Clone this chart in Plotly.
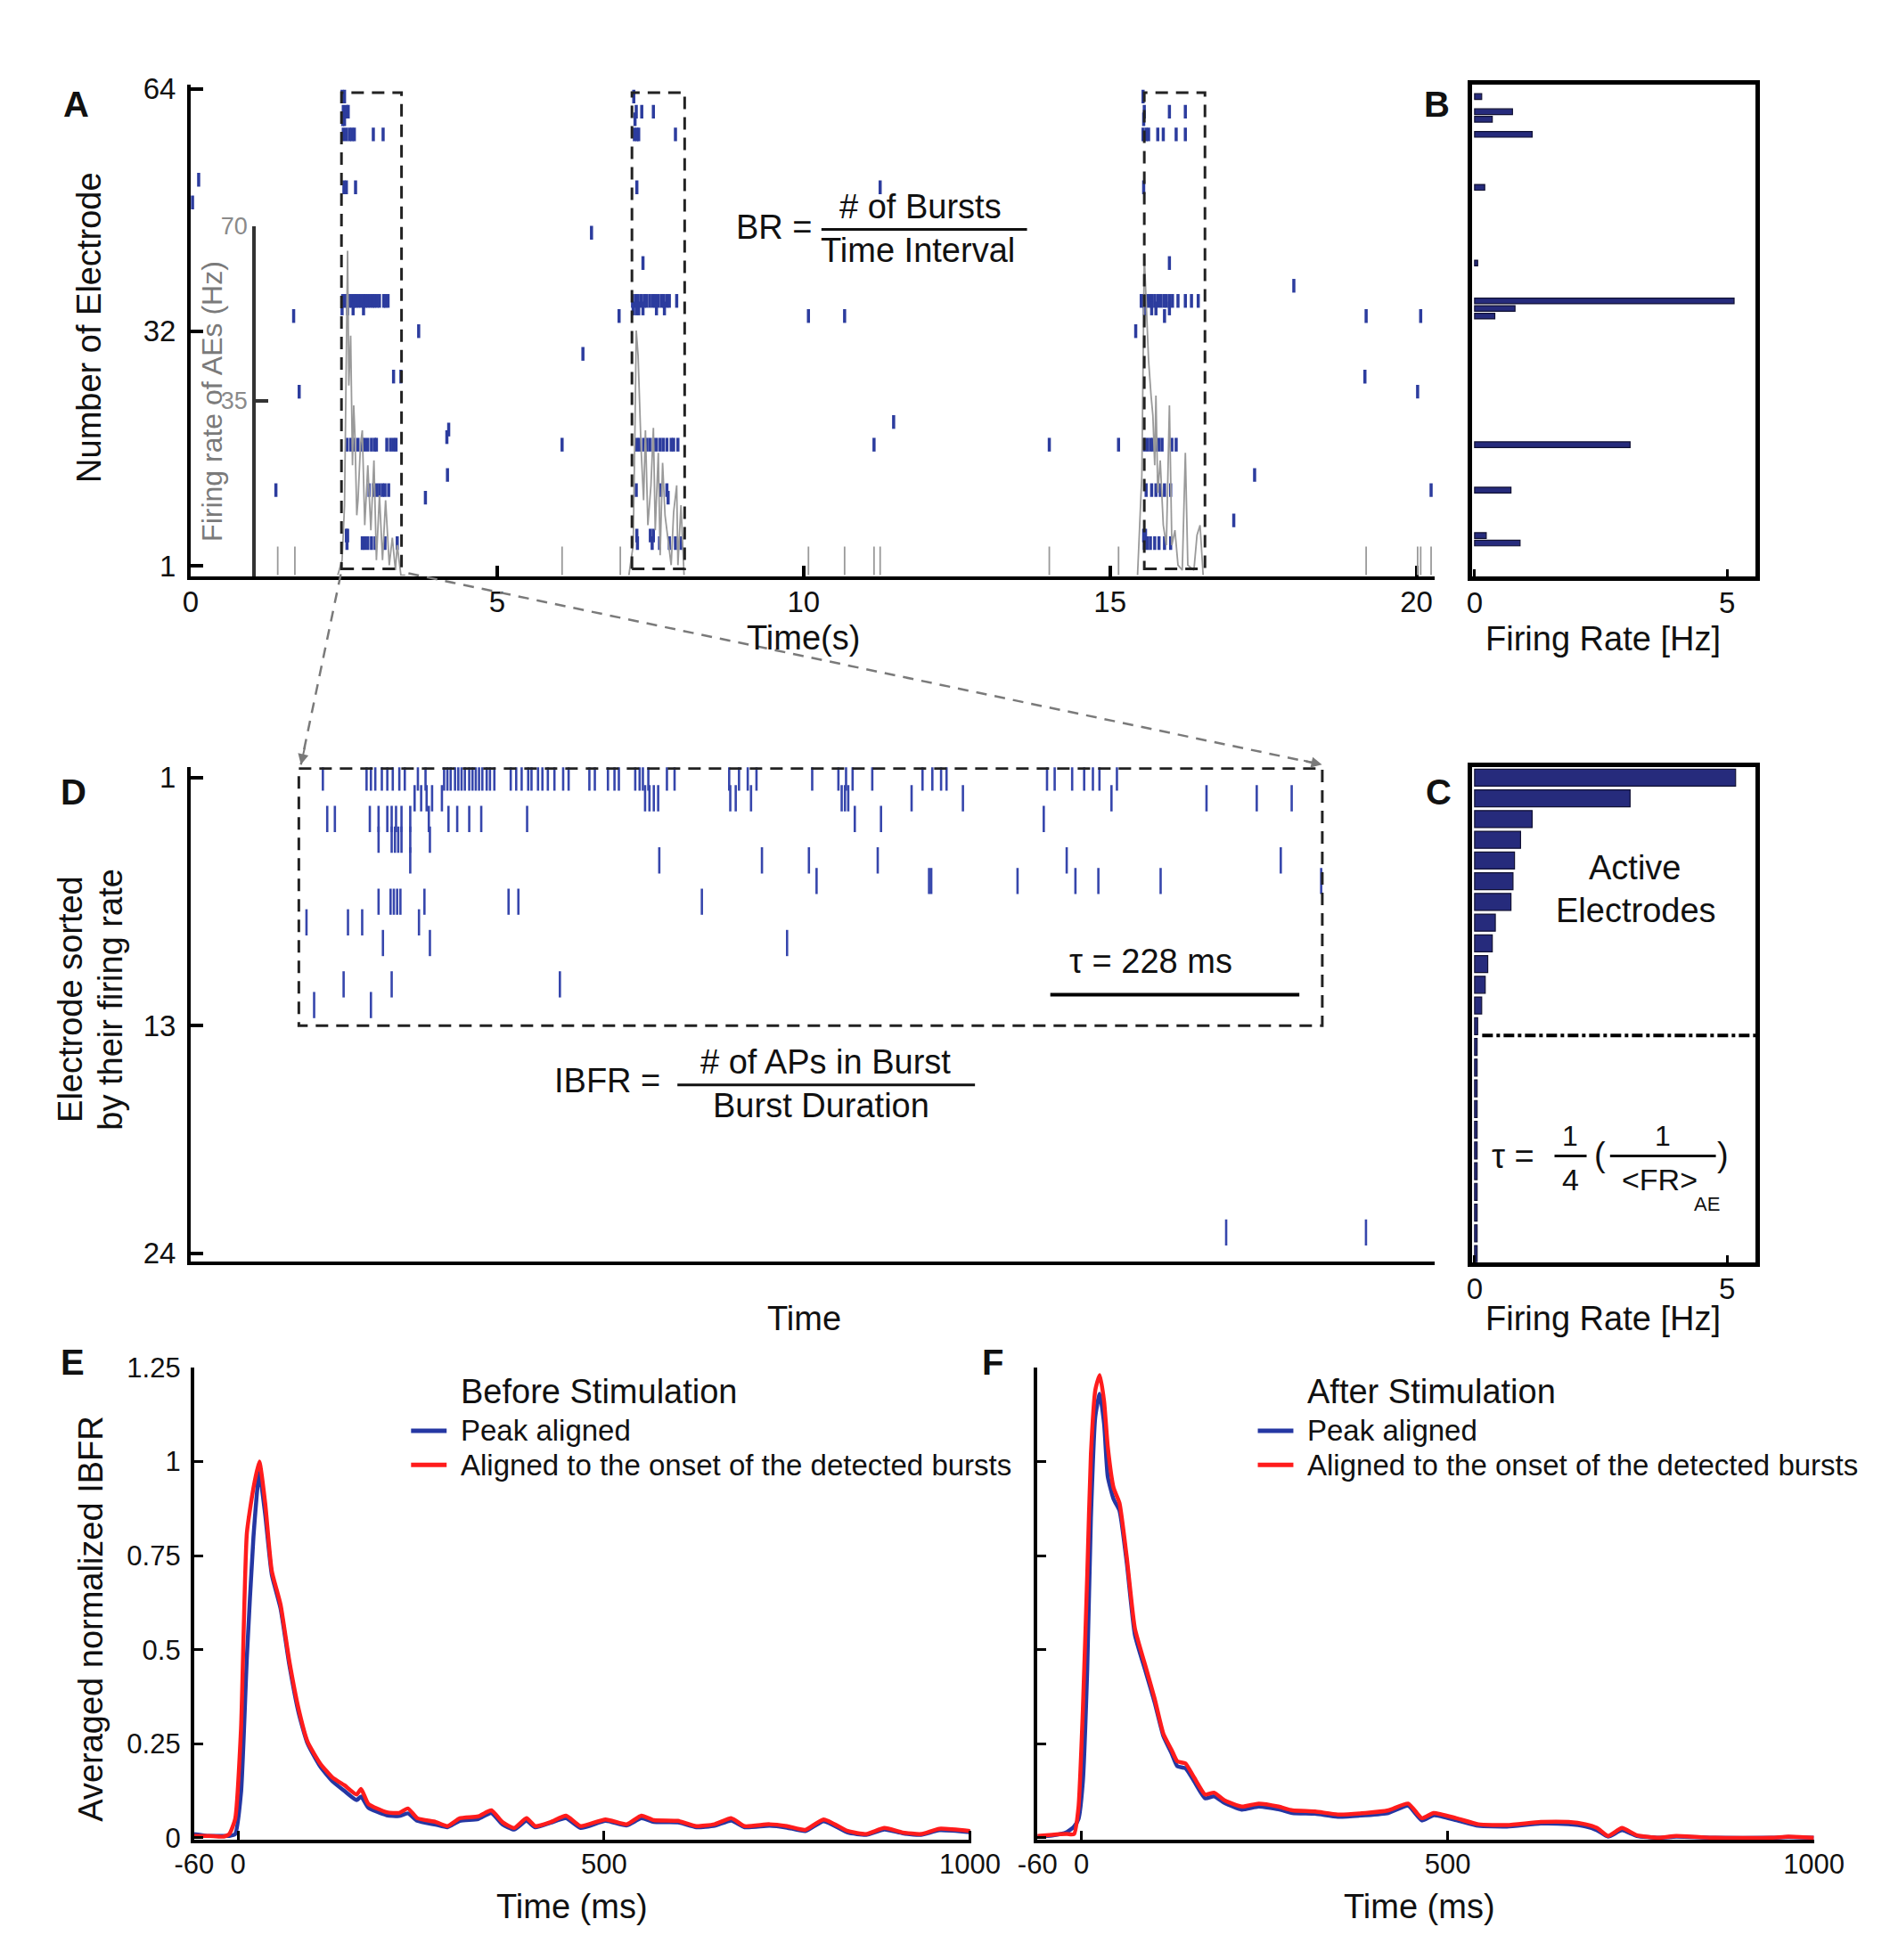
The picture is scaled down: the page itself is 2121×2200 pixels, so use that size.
import plotly.graph_objects as go

W, H = 2121, 2200
FONT = "Liberation Sans, Arial, sans-serif"
INK = "#111111"

# ---- panel A: raster of all 64 electrodes (time in s) ----
a_rows = [63, 61, 60, 58, 52, 51, 49, 45, 41, 38, 36, 35, 34, 32, 29, 26, 24, 20, 19, 18, 17, 13, 11, 10, 7, 5, 4]
a_times = [
    [2.47, 2.51, 7.23, 15.54],
    [2.49, 2.54, 2.57, 7.27, 7.36, 7.55, 15.56, 15.97, 16.23],
    [2.48, 2.51, 7.25, 15.55],
    [2.49, 2.54, 2.59, 2.63, 2.67, 2.98, 3.14, 7.24, 7.28, 7.31, 7.91, 15.54, 15.59, 15.63, 15.78, 15.87, 16.08, 16.23],
    [0.13],
    [2.50, 2.54, 2.69, 7.28, 11.25, 15.55],
    [0.03],
    [6.54],
    [7.38, 15.97],
    [18.0],
    [2.48, 2.52, 2.55, 2.59, 2.63, 2.67, 2.70, 2.74, 2.78, 2.82, 2.85, 2.89, 2.93, 2.97, 3.00, 3.04, 3.08, 3.15, 3.18, 3.22,
     7.21, 7.26, 7.30, 7.35, 7.40, 7.44, 7.49, 7.54, 7.58, 7.63, 7.68, 7.72, 7.77, 7.81, 7.93,
     15.51, 15.55, 15.59, 15.64, 15.68, 15.73, 15.78, 15.83, 15.88, 15.92, 15.97, 16.02, 16.11, 16.23, 16.33, 16.44],
    [2.47, 2.56, 2.65, 2.82, 7.22, 7.27, 7.31, 7.38, 7.60, 7.73, 15.56, 15.68, 15.75, 15.97],
    [1.68, 6.99, 10.08, 10.67, 15.89, 19.18, 20.07],
    [3.72, 15.42],
    [6.40],
    [3.31, 3.43, 19.16],
    [1.77, 20.02],
    [11.47],
    [4.21],
    [4.18],
    [2.55, 2.61, 2.67, 2.73, 2.80, 2.84, 2.89, 2.95, 3.00, 3.03, 3.20, 3.26, 3.31, 3.35, 6.06,
     7.28, 7.32, 7.39, 7.44, 7.49, 7.55, 7.60, 7.66, 7.71, 7.77, 7.84, 7.88, 7.95, 11.15, 14.01, 15.14,
     15.56, 15.61, 15.66, 15.70, 15.75, 15.80, 15.85, 16.01, 16.08],
    [4.19, 17.36],
    [1.39, 2.91, 2.98, 3.03, 3.08, 3.13, 3.17, 3.23, 7.27, 7.67, 7.77, 15.59, 15.68, 15.75, 15.82, 15.89, 15.99, 20.24],
    [3.83, 7.79],
    [17.02],
    [2.54, 2.56, 7.28, 7.50, 7.55, 15.55, 15.58],
    [2.55, 2.80, 2.84, 2.89, 2.95, 3.01, 3.17, 3.37, 7.29, 7.53, 7.65, 7.81, 7.91, 8.00,
     15.56, 15.61, 15.66, 15.73, 15.80, 15.89, 15.99],
]
# burst windows (s)
burst_start = [2.46, 7.20, 15.56]
burst_end = [3.44, 8.06, 16.55]
# firing rate of active electrodes (Hz), gray inset trace
rate_b1_t = [2.40, 2.47, 2.51, 2.54, 2.56, 2.58, 2.61, 2.64, 2.66, 2.68, 2.71, 2.73, 2.77, 2.80, 2.84, 2.89, 2.94, 2.99,
             3.03, 3.08, 3.13, 3.18, 3.24, 3.29, 3.34, 3.37, 3.43, 3.50]
rate_b1_hz = [0, 3, 14, 40, 65, 38, 48, 22, 34, 28, 12, 15, 26, 29, 10, 22, 9, 23, 3, 16, 3, 15, 2, 7.5, 1, 6, 0, 0]
rate_b2_t = [7.15, 7.22, 7.25, 7.27, 7.30, 7.32, 7.35, 7.39, 7.42, 7.46, 7.51, 7.55, 7.58, 7.63, 7.66, 7.70, 7.74, 7.79,
             7.84, 7.88, 7.93, 7.95, 8.00, 8.05]
rate_b2_hz = [0, 6, 30, 49, 44, 35, 25, 15, 29, 10, 18, 29.5, 9, 24.5, 4, 22.5, 12, 7, 2, 12.6, 18, 2, 14, 0]
rate_b3_t = [15.45, 15.52, 15.56, 15.59, 15.63, 15.67, 15.70, 15.73, 15.75, 15.78, 15.82, 15.87, 15.92, 15.97, 16.01,
             16.06, 16.11, 16.18, 16.23, 16.27, 16.37, 16.42, 16.47, 16.52]
rate_b3_hz = [0, 20, 64, 55, 43, 36, 32, 22, 36, 16.5, 23, 10, 6, 34, 6, 9, 2, 1, 24.5, 2, 1, 8, 10, 0]
rate_iso_t = [1.42, 1.70, 6.06, 7.01, 10.08, 10.67, 11.15, 11.25, 14.01, 15.14, 19.18, 20.02, 20.07, 20.24]
rate_iso_hz = [5.7, 5.7, 5.7, 5.7, 5.7, 5.7, 5.7, 5.7, 5.7, 5.7, 5.7, 5.7, 5.7, 5.7]

# ---- panel B: firing rate per electrode ----
b_rows = [63, 61, 60, 58, 51, 41, 36, 35, 34, 17, 11, 5, 4]
b_rate = [0.14, 0.75, 0.35, 1.14, 0.2, 0.06, 5.14, 0.8, 0.4, 3.08, 0.72, 0.23, 0.9]

# ---- panel C: sorted firing rates ----
c_rows = list(range(1, 25))
c_rate = [5.17, 3.08, 1.14, 0.91, 0.79, 0.76, 0.72, 0.41, 0.35, 0.26, 0.21, 0.14, 0.06,
          0.05, 0.05, 0.05, 0.05, 0.05, 0.05, 0.05, 0.05, 0.05, 0.05, 0.05]
active_cut = 13.45

# ---- panel D: zoomed burst raster, electrodes sorted (time in ms) ----
d_rows = [1, 2, 3, 4, 5, 6, 7, 8, 9, 11, 12, 23]
d_times = [
    [121, 161, 165, 169, 175, 180, 185, 191, 196, 208, 215, 232, 235, 238, 242, 245, 248, 251, 255, 258, 261, 264,
     267, 271, 274, 278, 293, 298, 303, 309, 312, 318, 322, 327, 333, 341, 346, 365, 370, 382, 388, 392, 407, 411,
     414, 419, 436, 443, 493, 502, 510, 518, 569, 593, 600, 606, 624, 670, 679, 687, 692, 784, 791, 807, 818, 826,
     832, 848],
    [205, 211, 216, 221, 230, 416, 420, 424, 428, 494, 499, 513, 596, 599, 602, 660, 707, 843, 930, 976, 1008],
    [125, 132, 164, 172, 180, 184, 188, 193, 201, 218, 236, 244, 255, 266, 308, 608, 632, 781],
    [172, 184, 187, 190, 193, 201, 219],
    [201, 429, 523, 566, 629, 802, 998],
    [573, 676, 678, 757, 810, 831, 888, 1035],
    [172, 183, 186, 189, 192, 214, 291, 300, 468],
    [106, 144, 157, 209],
    [176, 219, 546],
    [140, 184, 338],
    [113, 165],
    [948, 1076],
]
tau_ms = 228
tau_start = 787

# ---- panels E / F: averaged normalized IBFR ----
e_t = [-60, -40, -20, -12, -4, 4, 12, 21, 29, 37, 46, 58, 70, 83, 95, 112, 129, 145, 162, 168, 178, 203, 220, 232,
       245, 270, 286, 303, 328, 346, 361, 377, 394, 406, 427, 448, 468, 502, 531, 551, 568, 601, 626, 651, 674, 692,
       726, 750, 775, 800, 833, 858, 883, 908, 933, 958, 1000]
e_peak = [0.01, 0.005, 0.005, 0.005, 0.01, 0.12, 0.48, 0.80, 0.97, 0.86, 0.70, 0.61, 0.46, 0.33, 0.25, 0.19, 0.15,
          0.125, 0.10, 0.11, 0.08, 0.06, 0.058, 0.065, 0.045, 0.035, 0.028, 0.045, 0.05, 0.066, 0.036, 0.022, 0.045,
          0.028, 0.04, 0.052, 0.026, 0.045, 0.033, 0.052, 0.042, 0.041, 0.028, 0.032, 0.046, 0.028, 0.032, 0.027,
          0.018, 0.044, 0.014, 0.008, 0.022, 0.012, 0.008, 0.02, 0.015]
e_onset = [0.005, 0.005, 0.003, 0.01, 0.05, 0.29, 0.81, 0.93, 1.0, 0.89, 0.71, 0.62, 0.47, 0.34, 0.255, 0.198, 0.16,
           0.14, 0.115, 0.13, 0.09, 0.068, 0.066, 0.078, 0.052, 0.042, 0.031, 0.052, 0.057, 0.073, 0.042, 0.026,
           0.052, 0.031, 0.042, 0.059, 0.031, 0.049, 0.036, 0.059, 0.047, 0.045, 0.031, 0.036, 0.052, 0.031, 0.036,
           0.031, 0.021, 0.049, 0.018, 0.010, 0.026, 0.014, 0.010, 0.024, 0.018]
f_t = [-60, -40, -20, -10, -4, 2, 8, 13, 19, 25, 31, 36, 44, 52, 62, 73, 88, 100, 112, 123, 131, 142, 154, 169, 181,
       196, 219, 242, 269, 288, 319, 350, 388, 419, 446, 465, 481, 512, 542, 581, 627, 665, 688, 704, 719, 738, 758,
       788, 812, 865, 942, 965, 1000]
f_peak = [0.003, 0.006, 0.015, 0.03, 0.05, 0.15, 0.45, 0.85, 1.12, 1.18, 1.10, 0.96, 0.90, 0.87, 0.73, 0.54, 0.44,
          0.36, 0.27, 0.225, 0.19, 0.185, 0.15, 0.105, 0.11, 0.092, 0.075, 0.083, 0.076, 0.066, 0.064, 0.056, 0.06,
          0.066, 0.085, 0.046, 0.06, 0.047, 0.032, 0.03, 0.038, 0.036, 0.03, 0.02, 0.003, 0.02, 0.005, 0.0, 0.003,
          0.0, 0.0, 0.002, 0.0]
f_onset = [0.005, 0.008, 0.01, 0.01, 0.08, 0.34, 0.70, 1.02, 1.19, 1.23, 1.16, 1.04, 0.93, 0.89, 0.745, 0.557, 0.453,
           0.37, 0.276, 0.234, 0.203, 0.198, 0.16, 0.115, 0.12, 0.099, 0.083, 0.091, 0.083, 0.073, 0.07, 0.062, 0.066,
           0.073, 0.091, 0.052, 0.066, 0.052, 0.036, 0.034, 0.042, 0.042, 0.036, 0.026, 0.005, 0.026, 0.007, 0.0,
           0.005, 0.0, 0.0, 0.003, 0.0]
legend_names = ["Peak aligned", "Aligned to the onset of the detected bursts"]

SPIKE = "#2c3c9e"
BAR = "#262b7c"
BLUE = "#2537a3"
RED = "#ff1c1c"


# page pixel -> paper fraction
def fx(x):
    return x / W


def fy(y):
    return 1 - y / H


def xdom(a, b):
    return [fx(a), fx(b)]


def ydom(top, bottom):
    return [fy(bottom), fy(top)]


fig = go.Figure()

# A: raster
ax_x, ax_y = [], []
for row, times in zip(a_rows, a_times):
    ax_x += times
    ax_y += [row] * len(times)
fig.add_trace(go.Scatter(x=ax_x, y=ax_y, mode="markers", xaxis="x", yaxis="y", showlegend=False,
                         marker=dict(symbol="line-ns", size=11, line=dict(color=SPIKE, width=3.5))))

# A: gray firing rate of active electrodes
gx, gy = [], []
for ts, hz in [(rate_b1_t, rate_b1_hz), (rate_b2_t, rate_b2_hz), (rate_b3_t, rate_b3_hz)]:
    gx += ts + [None]
    gy += hz + [None]
for t, hz in zip(rate_iso_t, rate_iso_hz):
    gx += [t, t, None]
    gy += [0, hz, None]
fig.add_trace(go.Scatter(x=gx, y=gy, mode="lines", xaxis="x", yaxis="y3", showlegend=False,
                         line=dict(color="#9a9a9a", width=1.8)))

# B
fig.add_trace(go.Bar(x=b_rate, y=b_rows, orientation="h", xaxis="x2", yaxis="y2", width=0.75, showlegend=False,
                     marker=dict(color=BAR, line=dict(color="#111133", width=1.2))))

# D raster
dx, dy = [], []
for row, times in zip(d_rows, d_times):
    dx += times
    dy += [row] * len(times)
fig.add_trace(go.Scatter(x=dx, y=dy, mode="markers", xaxis="x4", yaxis="y4", showlegend=False,
                         marker=dict(symbol="line-ns", size=21, line=dict(color="#3646ac", width=2.6))))

# C
fig.add_trace(go.Bar(x=c_rate, y=c_rows, orientation="h", xaxis="x5", yaxis="y5", width=0.82, showlegend=False,
                     marker=dict(color=BAR, line=dict(color="#111133", width=1.2))))

# E, F
for xs, ys, color, name, xa, ya in [(e_t, e_peak, BLUE, legend_names[0], "x6", "y6"),
                                    (e_t, e_onset, RED, legend_names[1], "x6", "y6"),
                                    (f_t, f_peak, BLUE, legend_names[0], "x7", "y7"),
                                    (f_t, f_onset, RED, legend_names[1], "x7", "y7")]:
    fig.add_trace(go.Scatter(x=xs, y=ys, mode="lines", name=name, xaxis=xa, yaxis=ya, showlegend=False,
                             line=dict(color=color, width=4.5, shape="spline", smoothing=0.5)))

base = dict(showgrid=False, zeroline=False, showline=True, linecolor="black", tickcolor="black",
            ticks="inside", tickfont=dict(size=33, color=INK, family=FONT))

shapes = []
for s, e in zip(burst_start, burst_end):
    shapes.append(dict(type="rect", xref="x", yref="y", x0=s, x1=e, y0=0.6, y1=63.5,
                       line=dict(color="#222", width=3, dash="14px,9px")))
shapes.append(dict(type="rect", xref="x4", yref="y4", x0=99, x1=1036, y0=0.55, y1=13,
                   line=dict(color="#222", width=3, dash="14px,9px")))
shapes.append(dict(type="line", xref="x4", yref="y4", x0=tau_start, x1=tau_start + tau_ms, y0=11.5, y1=11.5,
                   line=dict(color="black", width=4)))
shapes.append(dict(type="line", xref="x5", yref="y5", x0=0.15, x1=5.57, y0=active_cut, y1=active_cut,
                   line=dict(color="black", width=4, dash="dashdot")))
# zoom connectors A -> D
for x0, y0, x1, y1 in [(362, 629, 316, 846), (440, 628, 1493, 846)]:
    shapes.append(dict(type="line", xref="paper", yref="paper", x0=fx(x0), y0=fy(y0), x1=fx(x1), y1=fy(y1),
                       line=dict(color="#7a7a7a", width=2.5, dash="12px,9px")))
# fraction bars
for x0, x1, y in [(916, 1153, 236), (750, 1093, 1211), (1761, 1798, 1292), (1825, 1947, 1292)]:
    shapes.append(dict(type="line", xref="paper", yref="paper", x0=fx(x0), x1=fx(x1), y0=fy(y), y1=fy(y),
                       line=dict(color=INK, width=3)))
# legend swatches for E and F
LEG_Y = [1605, 1644]
for lx in [443, 1419]:
    for ly, color in zip(LEG_Y, [BLUE, RED]):
        shapes.append(dict(type="line", xref="paper", yref="paper", x0=fx(lx), x1=fx(lx + 41), y0=fy(ly),
                           y1=fy(ly), line=dict(color=color, width=5)))

ann = []


def label(text, x, y, size=38, angle=0, color=INK, xanchor="center", bold=False):
    ann.append(dict(text="<b>%s</b>" % text if bold else text, x=fx(x), y=fy(y), xref="paper", yref="paper",
                    showarrow=False, textangle=angle, xanchor=xanchor, yanchor="middle",
                    font=dict(size=size, color=color, family=FONT)))


for t, x, y in [("A", 57, 93), ("B", 1625, 93), ("D", 54, 877), ("C", 1627, 877), ("E", 53, 1527), ("F", 1113, 1527)]:
    label(t, x, y, size=40, bold=True)

label("Number of Electrode", 72, 348, angle=-90)
label("Time(s)", 895, 702)
label("Firing rate of AEs (Hz)", 213, 432, size=32, angle=-90, color="#7a7a7a")
label("BR =", 862, 234)
label("# of Bursts", 1030, 210)
label("Time Interval", 1027, 260)
label("Firing Rate [Hz]", 1817, 703)
label("Firing Rate [Hz]", 1817, 1477)
label("Electrode sorted", 51, 1113, angle=-90)
label("by their firing rate", 97, 1113, angle=-90)
label("Time", 896, 1477)
label("IBFR =", 669, 1206)
label("# of APs in Burst", 921, 1185)
label("Burst Duration", 916, 1235)
label("τ = 228 ms", 1296, 1070)
label("Active", 1853, 963)
label("Electrodes", 1855, 1012)
label("τ =", 1713, 1292)
label("1", 1779, 1269, size=32)
label("4", 1779, 1319, size=34)
label("(", 1813, 1290)
label("1", 1886, 1269, size=32)
label("&lt;FR&gt;", 1882, 1319, size=34)
label("AE", 1937, 1347, size=22)
label(")", 1955, 1290)
label("Before Stimulation", 498, 1560, xanchor="left")
label("After Stimulation", 1474, 1560, xanchor="left")
label("Time (ms)", 629, 2147)
label("Time (ms)", 1605, 2147)
label("Averaged normalized IBFR", 74, 1819, angle=-90)
for lx in [498, 1474]:
    for name, ly in zip(legend_names, LEG_Y):
        label(name, lx, ly, size=33, xanchor="left")

# arrow heads of the zoom connectors
for x, y, axp, ayp in [(316, 846, 5, -22), (1493, 846, -22, -5)]:
    ann.append(dict(x=fx(x), y=fy(y), xref="paper", yref="paper", ax=axp, ay=ayp, axref="pixel",
                    ayref="pixel", showarrow=True, arrowhead=2, arrowsize=1.2, arrowwidth=2, arrowcolor="#7a7a7a",
                    text=""))

small = dict(size=31, color=INK, family=FONT)

fig.update_layout(
    width=W, height=H, autosize=False,
    margin=dict(l=0, r=0, t=0, b=0),
    paper_bgcolor="white", plot_bgcolor="rgba(0,0,0,0)",
    font=dict(family=FONT, color=INK),
    showlegend=False,
    xaxis=dict(base, domain=xdom(189, 1623), range=[0, 20.3], anchor="y", linewidth=4,
               tickvals=[0, 5, 10, 15, 20], ticklen=12, tickwidth=4, ticklabelstandoff=-3),
    yaxis=dict(base, domain=ydom(71, 631), range=[-0.35, 64.58], anchor="x", linewidth=4,
               tickvals=[1, 32, 64], ticklen=14, tickwidth=4, ticklabelstandoff=6),
    yaxis3=dict(base, domain=ydom(232, 631), range=[-0.18, 70], anchor="free", position=fx(262), side="left",
                linewidth=4, linecolor="#333", tickcolor="#333", tickvals=[35, 70], ticklen=14, tickwidth=4,
                tickfont=dict(size=27, color="#8a8a8a", family=FONT), ticklabelstandoff=0),
    xaxis2=dict(base, domain=xdom(1666, 1993), range=[-0.05, 5.57], anchor="y2", linewidth=5, mirror=True,
                tickvals=[0, 5], ticklen=8, tickwidth=3, ticklabelstandoff=-3),
    yaxis2=dict(base, domain=ydom(71, 631), range=[-0.35, 64.58], anchor="x2", linewidth=5, mirror=True,
                ticks="", showticklabels=False),
    xaxis4=dict(base, domain=xdom(189, 1623), range=[0, 1139], anchor="y4", linewidth=4, ticks="",
                showticklabels=False),
    yaxis4=dict(base, domain=ydom(849, 1412), range=[24.4, 0.5], anchor="x4", linewidth=4,
                tickvals=[1, 13, 24], ticklen=14, tickwidth=4, ticklabelstandoff=6),
    xaxis5=dict(base, domain=xdom(1666, 1993), range=[-0.05, 5.57], anchor="y5", linewidth=5, mirror=True,
                tickvals=[0, 5], ticklen=8, tickwidth=3, ticklabelstandoff=-3),
    yaxis5=dict(base, domain=ydom(849, 1413), range=[24.4, 0.5], anchor="x5", linewidth=5, mirror=True,
                ticks="", showticklabels=False),
    xaxis6=dict(base, domain=xdom(193, 1089), range=[-60, 1002], anchor="y6", linewidth=4,
                tickvals=[-60, 0, 500, 1000], ticktext=["-60", "0", "500", "1000"], ticklen=10, tickwidth=3,
                ticklabelstandoff=-3, tickfont=small),
    yaxis6=dict(base, domain=ydom(1533, 2071), range=[-0.005, 1.25], anchor="x6", linewidth=4,
                tickvals=[0, 0.25, 0.5, 0.75, 1, 1.25], ticklen=10, tickwidth=3, ticklabelstandoff=5,
                tickfont=small),
    xaxis7=dict(base, domain=xdom(1165, 2060), range=[-60, 1000], anchor="y7", linewidth=4,
                tickvals=[-60, 0, 500, 1000], ticktext=["-60", "0", "500", "1000"], ticklen=10, tickwidth=3,
                ticklabelstandoff=-3, tickfont=small),
    yaxis7=dict(base, domain=ydom(1533, 2071), range=[-0.005, 1.25], anchor="x7", linewidth=4,
                tickvals=[0, 0.25, 0.5, 0.75, 1, 1.25], ticklen=10, tickwidth=3, showticklabels=False),
    shapes=shapes,
    annotations=ann,
)

fig.write_html("out.html")
